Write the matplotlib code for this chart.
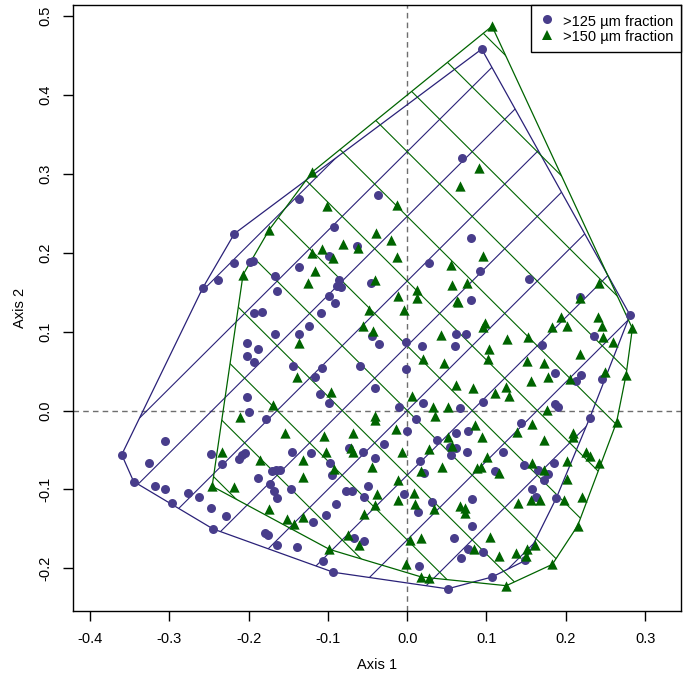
import numpy as np
import matplotlib.pyplot as plt
from matplotlib.patches import Polygon
from matplotlib.lines import Line2D
from matplotlib.collections import LineCollection

plt.rcParams['font.family'] = ['Liberation Sans', 'DejaVu Sans']
plt.rcParams['axes.unicode_minus'] = False

# ordination scores (axis 1, axis 2)
fraction_125 = [
    (0.094, 0.458), (0.069, 0.320), (-0.136, 0.268), (-0.037, 0.273), (-0.092, 0.233),
    (-0.218, 0.224), (0.080, 0.218), (-0.063, 0.208), (-0.099, 0.196), (-0.218, 0.187),
    (-0.198, 0.188), (-0.194, 0.189), (0.028, 0.187), (-0.136, 0.182), (0.092, 0.177),
    (-0.238, 0.165), (-0.258, 0.155), (-0.167, 0.171), (-0.086, 0.166), (-0.089, 0.158),
    (-0.083, 0.157), (-0.046, 0.161), (0.153, 0.167), (-0.164, 0.152), (-0.099, 0.145),
    (0.218, 0.144), (0.080, 0.140), (-0.091, 0.136), (-0.193, 0.124), (-0.183, 0.125),
    (0.281, 0.121), (-0.109, 0.123), (-0.124, 0.107), (-0.167, 0.097), (-0.136, 0.097),
    (-0.044, 0.094), (0.235, 0.094), (0.062, 0.097), (0.074, 0.097), (-0.035, 0.084),
    (-0.002, 0.087), (0.019, 0.082), (0.060, 0.082), (0.170, 0.083), (-0.202, 0.086),
    (-0.188, 0.078), (-0.202, 0.069), (-0.193, 0.061), (-0.144, 0.057), (-0.107, 0.054),
    (-0.059, 0.057), (-0.002, 0.053), (0.187, 0.047), (0.219, 0.045), (0.213, 0.037),
    (0.246, 0.040), (-0.116, 0.042), (-0.041, 0.029), (-0.202, 0.017), (-0.110, 0.021),
    (-0.099, 0.010), (-0.010, 0.004), (0.020, 0.010), (0.095, 0.011), (0.187, 0.008),
    (0.190, 0.005), (0.067, 0.003), (-0.200, -0.002), (-0.178, -0.011), (0.011, -0.011),
    (0.230, -0.010), (0.143, -0.016), (-0.305, -0.039), (-0.029, -0.043), (0.000, -0.026),
    (0.037, -0.037), (0.061, -0.028), (0.077, -0.026), (-0.360, -0.056), (-0.325, -0.066),
    (-0.247, -0.055), (-0.234, -0.068), (-0.212, -0.061), (-0.208, -0.056), (-0.204, -0.054),
    (-0.145, -0.053), (-0.121, -0.054), (-0.097, -0.067), (-0.095, -0.082), (-0.056, -0.052),
    (-0.073, -0.048), (-0.041, -0.060), (0.054, -0.046), (0.061, -0.048), (0.076, -0.053),
    (0.055, -0.056), (0.121, -0.052), (0.016, -0.064), (0.021, -0.079), (0.111, -0.077),
    (0.147, -0.069), (0.165, -0.075), (0.185, -0.066), (0.178, -0.081), (0.172, -0.088),
    (0.158, -0.100), (0.163, -0.109), (0.188, -0.111), (0.082, -0.112), (-0.345, -0.090),
    (-0.318, -0.096), (-0.305, -0.100), (-0.276, -0.104), (-0.263, -0.109), (-0.297, -0.117),
    (-0.248, -0.123), (-0.229, -0.134), (-0.245, -0.150), (-0.188, -0.085), (-0.171, -0.077),
    (-0.165, -0.076), (-0.160, -0.075), (-0.173, -0.093), (-0.168, -0.102), (-0.164, -0.111),
    (-0.147, -0.099), (-0.077, -0.102), (-0.070, -0.102), (-0.054, -0.109), (-0.050, -0.096),
    (-0.090, -0.118), (-0.103, -0.133), (-0.119, -0.141), (-0.004, -0.106), (0.031, -0.116),
    (0.014, -0.129), (0.082, -0.146), (0.059, -0.161), (-0.179, -0.155), (-0.176, -0.158),
    (-0.164, -0.170), (-0.139, -0.173), (-0.067, -0.161), (-0.055, -0.165), (0.077, -0.175),
    (0.095, -0.179), (0.068, -0.187), (0.015, -0.197), (-0.106, -0.191), (-0.093, -0.205),
    (0.051, -0.226), (0.149, -0.190), (0.107, -0.211),
]

fraction_150 = [
    (0.107, 0.487), (0.091, 0.307), (0.067, 0.284), (-0.120, 0.302), (-0.101, 0.259),
    (-0.013, 0.260), (-0.174, 0.229), (-0.039, 0.225), (-0.021, 0.216), (-0.081, 0.211),
    (-0.107, 0.205), (-0.062, 0.206), (-0.120, 0.199), (-0.094, 0.193), (-0.013, 0.194),
    (0.095, 0.196), (0.055, 0.185), (-0.116, 0.177), (-0.207, 0.172), (-0.125, 0.161),
    (-0.040, 0.166), (0.057, 0.159), (0.076, 0.162), (0.242, 0.161), (0.013, 0.153),
    (0.013, 0.143), (-0.011, 0.145), (0.063, 0.139), (0.064, 0.137), (0.218, 0.143),
    (-0.004, 0.128), (-0.048, 0.127), (0.194, 0.119), (0.201, 0.107), (0.183, 0.106),
    (0.241, 0.118), (0.246, 0.107), (0.284, 0.104), (0.098, 0.111), (0.096, 0.106),
    (-0.056, 0.107), (-0.043, 0.101), (0.043, 0.096), (0.126, 0.090), (0.152, 0.093),
    (0.247, 0.093), (0.259, 0.087), (-0.136, 0.085), (0.103, 0.078), (0.102, 0.065),
    (0.218, 0.072), (0.020, 0.065), (0.047, 0.060), (0.151, 0.063), (0.173, 0.060),
    (0.249, 0.049), (0.276, 0.045), (0.177, 0.043), (-0.139, 0.042), (-0.096, 0.023),
    (-0.169, 0.007), (0.156, 0.037), (0.205, 0.040), (0.062, 0.032), (0.083, 0.028),
    (0.125, 0.030), (0.111, 0.022), (0.128, 0.018), (0.006, 0.019), (0.032, 0.005),
    (0.052, 0.005), (0.176, 0.001), (0.035, -0.007), (-0.041, -0.007), (-0.040, -0.012),
    (-0.014, -0.024), (-0.068, -0.029), (-0.105, -0.032), (0.086, -0.018), (0.157, -0.017),
    (0.138, -0.027), (0.173, -0.037), (0.209, -0.029), (0.209, -0.034), (0.264, -0.015),
    (0.052, -0.034), (0.056, -0.045), (0.027, -0.049), (-0.006, -0.052), (-0.071, -0.048),
    (-0.068, -0.053), (-0.102, -0.053), (-0.132, -0.063), (-0.092, -0.074), (-0.045, -0.071),
    (0.017, -0.077), (0.044, -0.071), (0.094, -0.034), (0.101, -0.059), (0.088, -0.073),
    (0.093, -0.071), (0.225, -0.052), (0.230, -0.058), (0.242, -0.067), (0.202, -0.064),
    (0.157, -0.067), (0.173, -0.076), (0.116, -0.079), (0.202, -0.087), (-0.131, -0.084),
    (-0.011, -0.088), (-0.038, -0.106), (0.009, -0.104), (-0.012, -0.114), (0.010, -0.118),
    (-0.040, -0.120), (0.034, -0.125), (0.067, -0.121), (0.073, -0.123), (0.073, -0.130),
    (-0.054, -0.131), (-0.131, -0.135), (0.140, -0.117), (0.156, -0.114), (0.168, -0.114),
    (0.198, -0.113), (0.221, -0.110), (0.215, -0.146), (-0.075, -0.158), (-0.061, -0.171),
    (0.003, -0.164), (0.018, -0.161), (-0.098, -0.176), (0.084, -0.175), (0.104, -0.160),
    (0.116, -0.184), (0.137, -0.180), (0.151, -0.175), (0.161, -0.171), (0.150, -0.184),
    (0.183, -0.195), (-0.002, -0.195), (0.018, -0.211), (0.028, -0.212), (0.125, -0.222),
    (-0.211, -0.008), (-0.154, -0.029), (-0.233, -0.053), (-0.186, -0.063), (-0.246, -0.096),
    (-0.219, -0.097), (-0.174, -0.125), (-0.152, -0.138), (-0.143, -0.144),
]

labels = ['>125 µm fraction', '>150 µm fraction']
x_ticks = [-0.4, -0.3, -0.2, -0.1, 0.0, 0.1, 0.2, 0.3]
y_ticks = [-0.2, -0.1, 0.0, 0.1, 0.2, 0.3, 0.4, 0.5]

PURPLE_PT = '#483D8B'
PURPLE_LN = '#2a2178'
GREEN = '#006400'


def convex_hull(points):
    pts = sorted(set(points))

    def cross(o, a, b):
        return (a[0] - o[0]) * (b[1] - o[1]) - (a[1] - o[1]) * (b[0] - o[0])

    lower, upper = [], []
    for p in pts:
        while len(lower) >= 2 and cross(lower[-2], lower[-1], p) <= 0:
            lower.pop()
        lower.append(p)
    for p in reversed(pts):
        while len(upper) >= 2 and cross(upper[-2], upper[-1], p) <= 0:
            upper.pop()
        upper.append(p)
    return np.array(lower[:-1] + upper[:-1])


def hatched_hull(ax, points, color, slope, spacing=0.082):
    hull = convex_hull(points)
    poly = Polygon(hull, closed=True, facecolor='none', edgecolor=color,
                   lw=0.9, zorder=2)
    ax.add_patch(poly)
    segs = []
    for b in np.arange(-12, 13) * spacing:
        segs.append([(-1.0, -slope + b), (1.0, slope + b)])
    lc = LineCollection(segs, colors=color, linewidths=0.8, zorder=2)
    ax.add_collection(lc, autolim=False)
    lc.set_clip_path(poly)


fig = plt.figure(figsize=(6.86, 6.84), dpi=100)
ax = fig.add_axes([0.106, 0.1067, 0.8867, 0.886])

p125 = np.array(fraction_125)
p150 = np.array(fraction_150)

hatched_hull(ax, fraction_125, PURPLE_LN, 1.0)
hatched_hull(ax, fraction_150, GREEN, -1.0)

ax.axhline(0, color='#6e6e6e', lw=1.0, ls=(0, (4, 3)), zorder=1)
ax.axvline(0, color='#6e6e6e', lw=1.0, ls=(0, (4, 3)), zorder=1)

ax.scatter(p125[:, 0], p125[:, 1], s=42, marker='o', color=PURPLE_PT,
           linewidths=0, zorder=3)
ax.scatter(p150[:, 0], p150[:, 1], s=55, marker='^', color=GREEN,
           linewidths=0, zorder=4)

ax.set_xlim(-0.4218, 0.3453)
ax.set_ylim(-0.2541, 0.5139)
ax.set_xticks(x_ticks)
ax.set_xticklabels([f'{v:.1f}' for v in x_ticks])
ax.set_yticks(y_ticks)
ax.set_yticklabels([f'{v:.1f}' for v in y_ticks], rotation=90, va='center')
ax.tick_params(length=7, width=1, labelsize=10.5, pad=8, direction='out')
for sp in ax.spines.values():
    sp.set_linewidth(1.0)

ax.set_xlabel('Axis 1', fontsize=10.5, labelpad=9)
ax.set_ylabel('Axis 2', fontsize=10.5, labelpad=8)

handles = [
    Line2D([], [], ls='none', marker='o', color=PURPLE_PT, markersize=6.5, markeredgewidth=0),
    Line2D([], [], ls='none', marker='^', color=GREEN, markersize=7, markeredgewidth=0),
]
leg = ax.legend(handles, labels, loc='upper right', borderaxespad=0,
                fancybox=False, edgecolor='black', framealpha=1,
                fontsize=10.5, handlelength=1.0, handletextpad=0.6,
                handleheight=1.25, labelspacing=0.0, borderpad=0.55)
leg.get_frame().set_linewidth(1.0)

fig.savefig('out.png', dpi=100)
